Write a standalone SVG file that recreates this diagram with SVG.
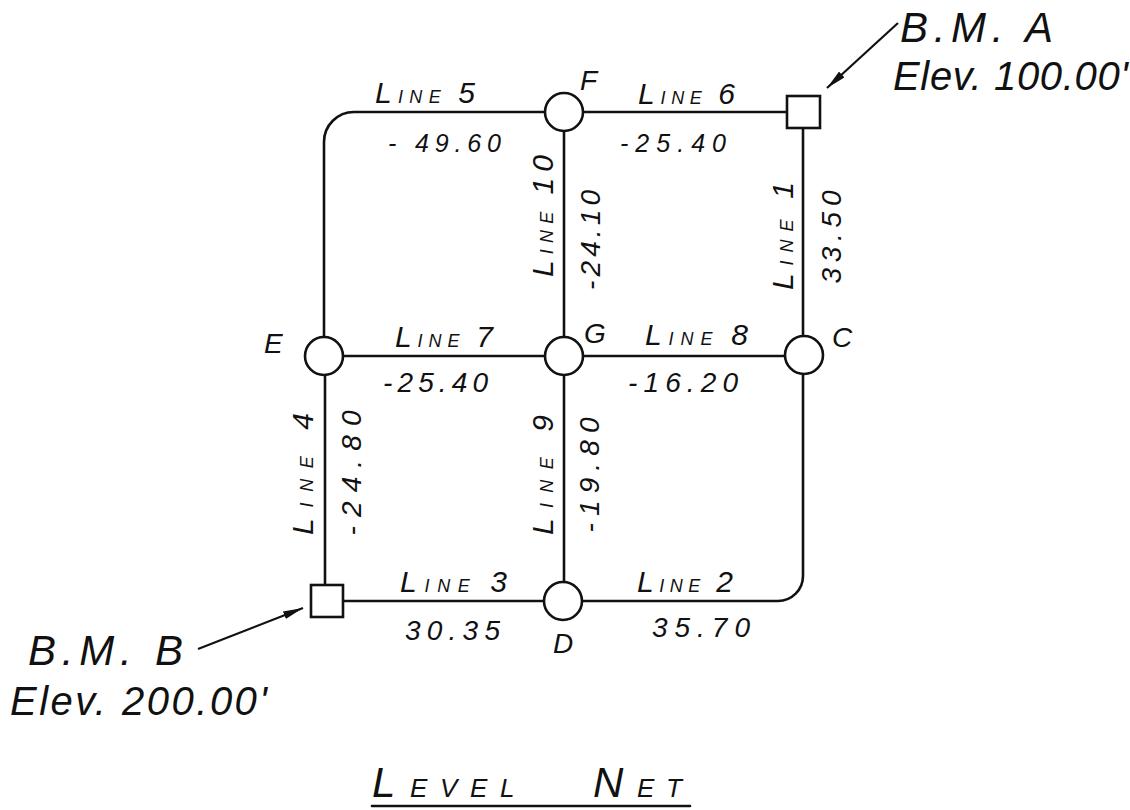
<svg xmlns="http://www.w3.org/2000/svg" width="1130" height="810" viewBox="0 0 1130 810">
<defs>
<style>
.ln{fill:none;stroke:#111;stroke-width:2.6;stroke-linecap:round}
.nd{fill:#fff;stroke:#111;stroke-width:2.6}
.t{font-family:"Liberation Sans",Arial,sans-serif;font-style:italic;fill:#111}
.s{font-size:18px}
.b{font-size:30px}
.n{font-size:28px}
.nt{font-size:25px}
.lab{font-size:28px}
.bm{font-size:42px}
.el{font-size:40px}
.ts{font-size:26px}
.tb{font-size:42px}
.ar{fill:none;stroke:#111;stroke-width:2.2}
</style>
<marker id="ah" viewBox="0 0 20 8" refX="20" refY="4" markerWidth="20" markerHeight="8" markerUnits="userSpaceOnUse" orient="auto">
<path d="M0,0 L20,4 L0,8 Z" fill="#111"/>
</marker>
</defs>
<rect width="1130" height="810" fill="#fff"/>

<g id="connectors">
<path class="ln" d="M545,112 H354 A30,30 0 0 0 324,142 V337"/>
<path class="ln" d="M583,112 H787"/>
<path class="ln" d="M803,128 V336"/>
<path class="ln" d="M564,131 V337"/>
<path class="ln" d="M343,356 H545"/>
<path class="ln" d="M583,356 H785"/>
<path class="ln" d="M325,375 V585"/>
<path class="ln" d="M564,375 V582"/>
<path class="ln" d="M343,601 H544"/>
<path class="ln" d="M582,601 H778 A25,25 0 0 0 803,576 V374"/>
<path class="ar" d="M898,23 L827,88" marker-end="url(#ah)"/>
<path class="ar" d="M198,649 L303,608" marker-end="url(#ah)"/>
</g>

<g id="node-F"><circle class="nd" cx="564" cy="112" r="19"/><text class="t lab" x="580" y="90">F</text></g>
<g id="node-G"><circle class="nd" cx="564" cy="356" r="19"/><text class="t lab" x="584" y="343">G</text></g>
<g id="node-C"><circle class="nd" cx="804" cy="355" r="19"/><text class="t lab" x="832" y="347">C</text></g>
<g id="node-E"><circle class="nd" cx="324" cy="356" r="19"/><text class="t lab" x="264" y="353">E</text></g>
<g id="node-D"><circle class="nd" cx="563" cy="601" r="19"/><text class="t lab" x="553" y="653">D</text></g>
<g id="bm-A"><rect class="nd" x="787" y="96" width="33" height="32"/>
<text class="t bm" x="900" y="42" textLength="153" lengthAdjust="spacing">B.M.  A</text>
<text class="t el" x="893" y="90" textLength="235" lengthAdjust="spacing">Elev. 100.00'</text></g>
<g id="bm-B"><rect class="nd" x="311" y="585" width="32" height="32"/>
<text class="t bm" x="28" y="665" textLength="155" lengthAdjust="spacing">B.M.  B</text>
<text class="t el" x="10" y="715" textLength="257" lengthAdjust="spacing">Elev. 200.00'</text></g>

<g id="labels">
<text class="t" x="375" y="103" textLength="100" lengthAdjust="spacing"><tspan class="b">L</tspan><tspan class="s">INE </tspan><tspan class="b">5</tspan></text>
<text class="t nt" x="388" y="152" textLength="113" lengthAdjust="spacing">- 49.60</text>
<text class="t" x="638" y="104" textLength="97" lengthAdjust="spacing"><tspan class="b">L</tspan><tspan class="s">INE </tspan><tspan class="b">6</tspan></text>
<text class="t nt" x="620" y="152" textLength="106" lengthAdjust="spacing">-25.40</text>

<text class="t" transform="translate(553,216) rotate(-90)" text-anchor="middle" textLength="122" lengthAdjust="spacing"><tspan class="b">L</tspan><tspan class="s">INE </tspan><tspan class="b">10</tspan></text>
<text class="t n" transform="translate(600,240) rotate(-90)" text-anchor="middle" textLength="100" lengthAdjust="spacing">-24.10</text>
<text class="t" transform="translate(793,236) rotate(-90)" text-anchor="middle" textLength="108" lengthAdjust="spacing"><tspan class="b">L</tspan><tspan class="s">INE </tspan><tspan class="b">1</tspan></text>
<text class="t n" transform="translate(841,237) rotate(-90)" text-anchor="middle" textLength="93" lengthAdjust="spacing">33.50</text>

<text class="t" x="395" y="347" textLength="98" lengthAdjust="spacing"><tspan class="b">L</tspan><tspan class="s">INE </tspan><tspan class="b">7</tspan></text>
<text class="t n" x="383" y="392" textLength="105" lengthAdjust="spacing">-25.40</text>
<text class="t" x="645" y="345" textLength="103" lengthAdjust="spacing"><tspan class="b">L</tspan><tspan class="s">INE </tspan><tspan class="b">8</tspan></text>
<text class="t n" x="628" y="392" textLength="110" lengthAdjust="spacing">-16.20</text>

<text class="t" transform="translate(313,474) rotate(-90)" text-anchor="middle" textLength="122" lengthAdjust="spacing"><tspan class="b">L</tspan><tspan class="s">INE </tspan><tspan class="b">4</tspan></text>
<text class="t n" transform="translate(361,473) rotate(-90)" text-anchor="middle" textLength="125" lengthAdjust="spacing">-24.80</text>
<text class="t" transform="translate(553,475) rotate(-90)" text-anchor="middle" textLength="120" lengthAdjust="spacing"><tspan class="b">L</tspan><tspan class="s">INE </tspan><tspan class="b">9</tspan></text>
<text class="t n" transform="translate(599,475) rotate(-90)" text-anchor="middle" textLength="115" lengthAdjust="spacing">-19.80</text>

<text class="t" x="400" y="592" textLength="107" lengthAdjust="spacing"><tspan class="b">L</tspan><tspan class="s">INE </tspan><tspan class="b">3</tspan></text>
<text class="t n" x="405" y="640" textLength="95" lengthAdjust="spacing">30.35</text>
<text class="t" x="637" y="592" textLength="96" lengthAdjust="spacing"><tspan class="b">L</tspan><tspan class="s">INE </tspan><tspan class="b">2</tspan></text>
<text class="t n" x="652" y="637" textLength="98" lengthAdjust="spacing">35.70</text>
</g>

<g id="title">
<text class="t" y="797"><tspan class="tb" x="372">L</tspan><tspan class="ts" x="410">E</tspan><tspan class="ts" x="440">V</tspan><tspan class="ts" x="470">E</tspan><tspan class="ts" x="500">L</tspan><tspan class="tb" x="593">N</tspan><tspan class="ts" x="637">E</tspan><tspan class="ts" x="666">T</tspan></text>
<path class="ln" d="M372,806 H690" stroke-width="2"/>
</g>
</svg>
